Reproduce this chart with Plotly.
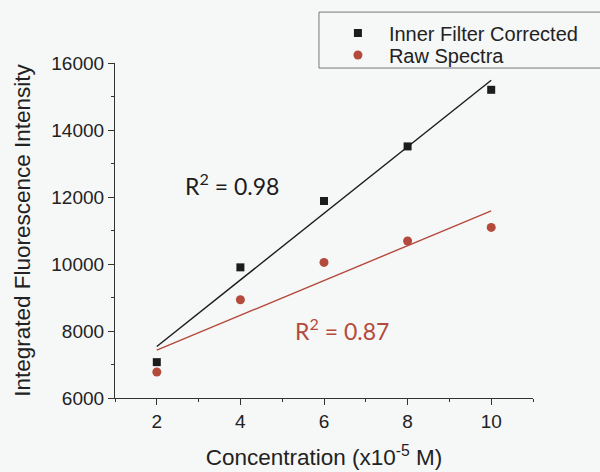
import numpy as np
import plotly.graph_objects as go

conc = [2, 4, 6, 8, 10]
corrected = [7070, 9900, 11880, 13510, 15200]
raw = [6776, 8934, 10048, 10686, 11093]
x_ticks = [2, 4, 6, 8, 10]
y_ticks = [6000, 8000, 10000, 12000, 14000, 16000]

black = "#1c1c1c"
red = "#b44a3c"
bg = "#f6f7f7"
sans = "Arial"

xs = np.array(conc, dtype=float)
fit_c = np.polyfit(xs, corrected, 1)
fit_r = np.polyfit(xs, raw, 1)
xl = np.array([min(conc), max(conc)], dtype=float)

fig = go.Figure()
fig.add_trace(go.Scatter(x=xl, y=np.polyval(fit_c, xl), mode="lines",
                         line=dict(color=black, width=1.4), showlegend=False, hoverinfo="skip"))
fig.add_trace(go.Scatter(x=xl, y=np.polyval(fit_r, xl), mode="lines",
                         line=dict(color=red, width=1.4), showlegend=False, hoverinfo="skip"))
fig.add_trace(go.Scatter(x=conc, y=corrected, mode="markers", name="Inner Filter Corrected",
                         marker=dict(symbol="square", size=8, color=black), legend="legend"))
fig.add_trace(go.Scatter(x=conc, y=raw, mode="markers", name="Raw Spectra",
                         marker=dict(symbol="circle", size=9, color=red), legend="legend2"))

fig.add_annotation(x=3.8, y=12370, text="R<sup>2</sup> = 0.98", showarrow=False,
                   font=dict(family="Lato", size=23, color=black), xanchor="center", yanchor="middle")
fig.add_annotation(x=6.44, y=8040, text="R<sup>2</sup> = 0.87", showarrow=False,
                   font=dict(family="Lato", size=23, color=red), xanchor="center", yanchor="middle")

# legend frame (open on the right, where the figure edge cuts it)
fig.add_shape(type="path", xref="paper", yref="paper",
              path="M 1.25,1.152 L 0.488,1.152 L 0.488,0.985 L 1.25,0.985",
              line=dict(color="#777", width=1), layer="above")

axis_common = dict(showline=True, linecolor="#333", linewidth=1.2, ticks="outside",
                   ticklen=6, tickwidth=1.2, tickcolor="#333", showgrid=False, zeroline=False,
                   tickfont=dict(family=sans, size=19, color="#222"), mirror=False,
                   automargin=False)

fig.update_xaxes(range=[1, 11], tickvals=x_ticks, ticktext=[str(v) for v in x_ticks],
                 minor=dict(ticks="outside", ticklen=3, tickwidth=1.2, tickcolor="#333", dtick=1, tick0=1),
                 title=dict(text="Concentration (x10<sup>-5</sup> M)",
                            font=dict(family=sans, size=22.5, color="#222"), standoff=18),
                 **axis_common)
fig.update_yaxes(range=[6000, 16000], tickvals=y_ticks, ticktext=[str(v) for v in y_ticks],
                 minor=dict(ticks="outside", ticklen=3, tickwidth=1.2, tickcolor="#333", dtick=1000, tick0=6000),
                 title=dict(text="Integrated Fluorescence Intensity",
                            font=dict(family=sans, size=22.5, color="#222"), standoff=14),
                 **axis_common)

leg_common = dict(xanchor="left", yanchor="middle", bgcolor="rgba(0,0,0,0)", borderwidth=0,
                  font=dict(family=sans, size=20, color="#222"), itemwidth=52, itemsizing="trace")
fig.update_layout(
    width=600, height=472,
    margin=dict(l=115, r=67, t=63, b=74, autoexpand=False),
    paper_bgcolor=bg, plot_bgcolor=bg,
    showlegend=True,
    legend=dict(x=0.507, y=1.0896, **leg_common),
    legend2=dict(x=0.507, y=1.0239, **leg_common),
)

fig.write_html("out.html")
